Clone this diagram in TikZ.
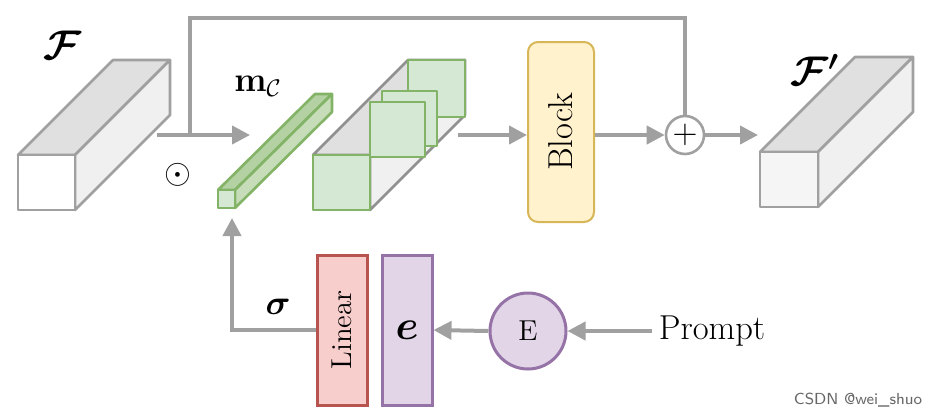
\documentclass[tikz,border=0pt]{standalone}
\usepackage{amsmath}
\usetikzlibrary{arrows.meta}
\definecolor{ln}{HTML}{A0A0A0}
\definecolor{gfill}{HTML}{D5E8D4}
\definecolor{gstroke}{HTML}{82B366}
\definecolor{ylw}{HTML}{D6B656}
\definecolor{yfill}{HTML}{FFF2CC}
\definecolor{rstroke}{HTML}{B85450}\definecolor{rfill}{HTML}{F8CECC}
\definecolor{pstroke}{HTML}{9673A6}\definecolor{pfill}{HTML}{E1D5E7}
\begin{document}
\begin{tikzpicture}[x=0.5pt,y=-0.5pt,
  conn/.style={draw=ln,line width=2pt,-{Triangle[length=9pt,width=9pt]}},
  plain/.style={draw=ln,line width=2pt},
  box/.style={draw=ln!90!black,line width=1.3pt,line join=round}]
\useasboundingbox (0,0) rectangle (930,414);
\newcommand{\cuboid}[8]{%
  \filldraw[box,draw=#8,fill=black!12] (#1,#2) -- ++(#5,#6) -- ++(#3-#1,0) -- (#3,#2) -- cycle;
  \filldraw[box,draw=#8,fill=black!6] (#3,#2) -- ++(#5,#6) -- ++(0,#4-#2) -- (#3,#4) -- cycle;
  \filldraw[box,draw=#8,fill=#7] (#1,#2) rectangle (#3,#4);}
\cuboid{18}{155}{75}{210}{95}{-95}{white}{ln}
\node (F) at (62,45) {\huge$\boldsymbol{\mathcal{F}}$};
\cuboid{760}{152}{818}{207}{95}{-95}{black!4}{ln}
\node (Fp) at (815,70) {\huge$\boldsymbol{\mathcal{F}'}$};
% green bar
\filldraw[box,draw=gstroke,fill=gstroke!60] (218,190) -- ++(97,-96) -- ++(17,0) -- (235,190) -- cycle;
\filldraw[box,draw=gstroke,fill=gstroke!45] (235,190) -- ++(97,-96) -- ++(0,18) -- (235,208) -- cycle;
\filldraw[box,draw=gstroke,fill=gfill] (218,190) rectangle (235,208);
\node (mc) at (258,86) {\LARGE$\mathbf{m}_{\mathcal{C}}$};
% middle block
\filldraw[box,fill=black!12] (313,155) -- ++(95,-95) -- ++(57,0) -- (370,155) -- cycle;
\filldraw[box,fill=black!6] (370,155) -- ++(95,-95) -- ++(0,55) -- (370,210) -- cycle;
\filldraw[box,draw=gstroke,fill=gfill] (408,60) rectangle (465,117);
\filldraw[box,draw=gstroke,fill=gfill] (382,91) rectangle (437,146);
\filldraw[box,draw=gstroke,fill=gfill] (370,102) rectangle (425,157);
\filldraw[box,draw=gstroke,fill=gfill] (313,155) rectangle (370,210);
% Block
\node (blk) [draw=ylw,fill=yfill,line width=1pt,rounded corners=5pt,minimum width=33pt,minimum height=90pt] at (561,132) {};
\node[rotate=90] at (blk) {\LARGE Block};
\node (plus) [circle,draw=ln,line width=1.3pt,fill=white,minimum size=19pt,inner sep=0pt] at (685,135) {\LARGE$+$};
\node (odot) at (178,175) {\LARGE$\odot$};
\coordinate (s) at (157,135);
\coordinate (mcin) at (250,135);
\coordinate (br) at (190,135);
\draw[plain] (s) -- (br);
\draw[conn] (br) -- (mcin);
\draw[plain] (br) -- (190,18) -- (685,18) -- (plus.north);
\coordinate (mo) at (458,135);
\draw[conn] (mo) -- (mo -| blk.west);
\draw[conn] (mo -| blk.east) -- (plus.west);
\coordinate (fpin) at (758,135);
\draw[conn] (plus.east) -- (fpin);
% bottom
\node (lin) [draw=rstroke,fill=rfill,line width=1.5pt,minimum width=25pt,minimum height=75pt,inner sep=0pt] at (342,330) {};
\node[rotate=90] at (lin) {\Large Linear};
\node (e) [draw=pstroke,fill=pfill,line width=1.5pt,minimum width=25pt,minimum height=75pt,inner sep=0pt] at (407,330) {\huge$\boldsymbol{e}$};
\node (E) [circle,draw=pstroke,fill=pfill,line width=1.5pt,minimum size=38pt,inner sep=0pt] at (528,331) {\Large E};
\node (P) at (712,331) {\LARGE Prompt};
\draw[conn] (P.west) -- (E.east);
\draw[conn] (E.west) -- (e.east);
\coordinate (up) at (232,218);
\draw[conn] (lin.west) -- (232,330) -- (up);
\node (sig) at (278,307) {\LARGE$\boldsymbol{\sigma}$};
\node[text=black!60,font=\footnotesize] (c) at (858,400) {\textsf{CSDN @wei\_shuo}};
\end{tikzpicture}
\end{document}
